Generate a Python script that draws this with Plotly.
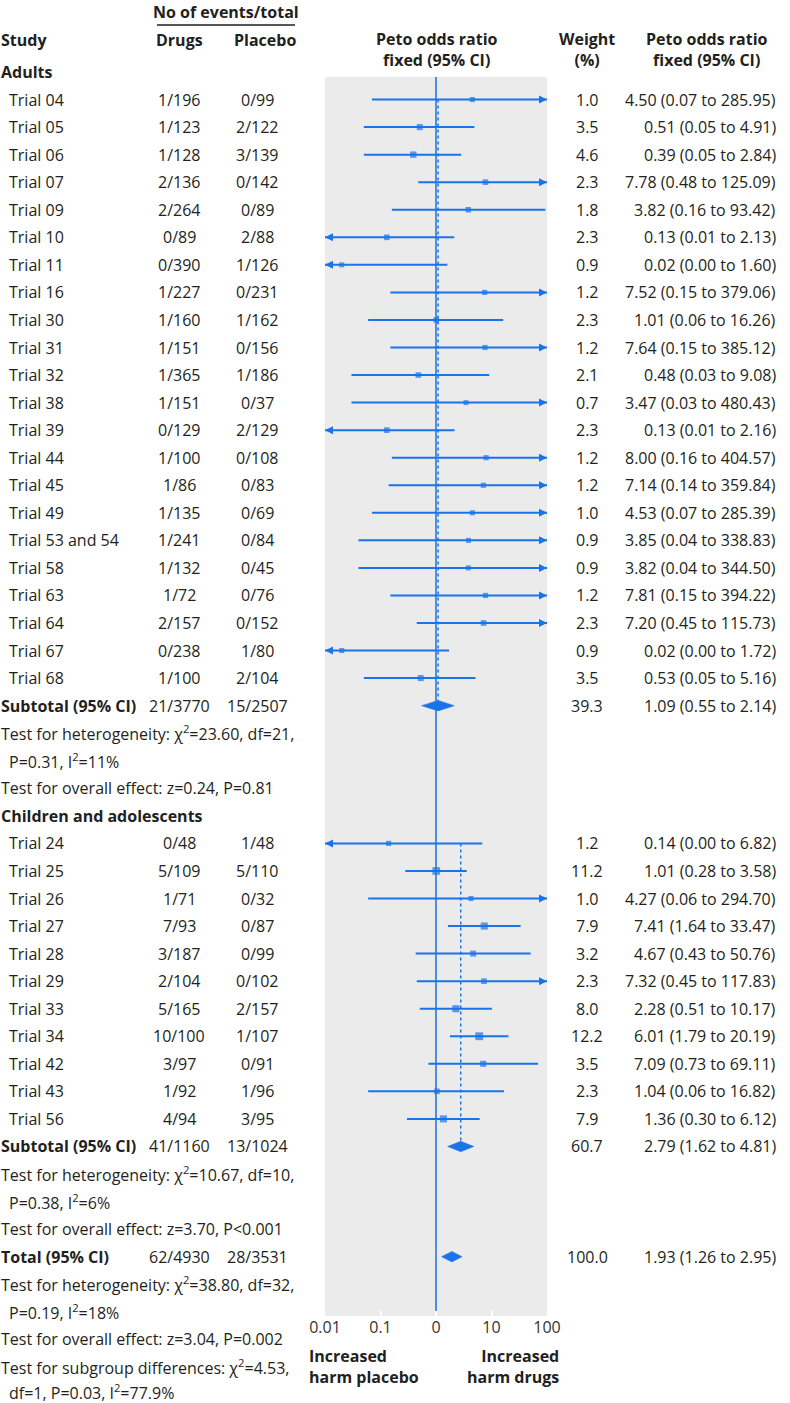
import numpy as np
import plotly.graph_objects as go

# ---------------- data ----------------
adult_trials = ["Trial 04", "Trial 05", "Trial 06", "Trial 07", "Trial 09", "Trial 10", "Trial 11",
                "Trial 16", "Trial 30", "Trial 31", "Trial 32", "Trial 38", "Trial 39", "Trial 44",
                "Trial 45", "Trial 49", "Trial 53 and 54", "Trial 58", "Trial 63", "Trial 64",
                "Trial 67", "Trial 68"]
adult_drugs = ["1/196", "1/123", "1/128", "2/136", "2/264", "0/89", "0/390", "1/227", "1/160", "1/151",
               "1/365", "1/151", "0/129", "1/100", "1/86", "1/135", "1/241", "1/132", "1/72", "2/157",
               "0/238", "1/100"]
adult_placebo = ["0/99", "2/122", "3/139", "0/142", "0/89", "2/88", "1/126", "0/231", "1/162", "0/156",
                 "1/186", "0/37", "2/129", "0/108", "0/83", "0/69", "0/84", "0/45", "0/76", "0/152",
                 "1/80", "2/104"]
adult_weight = [1.0, 3.5, 4.6, 2.3, 1.8, 2.3, 0.9, 1.2, 2.3, 1.2, 2.1, 0.7, 2.3, 1.2, 1.2, 1.0, 0.9, 0.9,
                1.2, 2.3, 0.9, 3.5]
adult_or = [4.50, 0.51, 0.39, 7.78, 3.82, 0.13, 0.02, 7.52, 1.01, 7.64, 0.48, 3.47, 0.13, 8.00, 7.14, 4.53,
            3.85, 3.82, 7.81, 7.20, 0.02, 0.53]
adult_lo = [0.07, 0.05, 0.05, 0.48, 0.16, 0.01, 0.00, 0.15, 0.06, 0.15, 0.03, 0.03, 0.01, 0.16, 0.14, 0.07,
            0.04, 0.04, 0.15, 0.45, 0.00, 0.05]
adult_hi = [285.95, 4.91, 2.84, 125.09, 93.42, 2.13, 1.60, 379.06, 16.26, 385.12, 9.08, 480.43, 2.16,
            404.57, 359.84, 285.39, 338.83, 344.50, 394.22, 115.73, 1.72, 5.16]
adult_sub = {"drugs": "21/3770", "placebo": "15/2507", "weight": 39.3, "or": 1.09, "lo": 0.55, "hi": 2.14}
adult_tests = ["Test for heterogeneity: χ<sup>2</sup>=23.60, df=21,",
               "  P=0.31, I<sup>2</sup>=11%",
               "Test for overall effect: z=0.24, P=0.81"]

child_trials = ["Trial 24", "Trial 25", "Trial 26", "Trial 27", "Trial 28", "Trial 29", "Trial 33",
                "Trial 34", "Trial 42", "Trial 43", "Trial 56"]
child_drugs = ["0/48", "5/109", "1/71", "7/93", "3/187", "2/104", "5/165", "10/100", "3/97", "1/92", "4/94"]
child_placebo = ["1/48", "5/110", "0/32", "0/87", "0/99", "0/102", "2/157", "1/107", "0/91", "1/96", "3/95"]
child_weight = [1.2, 11.2, 1.0, 7.9, 3.2, 2.3, 8.0, 12.2, 3.5, 2.3, 7.9]
child_or = [0.14, 1.01, 4.27, 7.41, 4.67, 7.32, 2.28, 6.01, 7.09, 1.04, 1.36]
child_lo = [0.00, 0.28, 0.06, 1.64, 0.43, 0.45, 0.51, 1.79, 0.73, 0.06, 0.30]
child_hi = [6.82, 3.58, 294.70, 33.47, 50.76, 117.83, 10.17, 20.19, 69.11, 16.82, 6.12]
child_sub = {"drugs": "41/1160", "placebo": "13/1024", "weight": 60.7, "or": 2.79, "lo": 1.62, "hi": 4.81}
child_tests = ["Test for heterogeneity: χ<sup>2</sup>=10.67, df=10,",
               "  P=0.38, I<sup>2</sup>=6%",
               "Test for overall effect: z=3.70, P<0.001"]

total = {"drugs": "62/4930", "placebo": "28/3531", "weight": 100.0, "or": 1.93, "lo": 1.26, "hi": 2.95}
total_tests = ["Test for heterogeneity: χ<sup>2</sup>=38.80, df=32,",
               "  P=0.19, I<sup>2</sup>=18%",
               "Test for overall effect: z=3.04, P=0.002",
               "Test for subgroup differences: χ<sup>2</sup>=4.53,",
               "  df=1, P=0.03, I<sup>2</sup>=77.9%"]

tick_vals = [0.01, 0.1, 1, 10, 100]
tick_text = ["0.01", "0.1", "0", "10", "100"]

# ---------------- layout constants ----------------
W, H = 790, 1403
ROW0, DY = 72.0, 27.55
XMIN, XMAX = 0.01, 100
FONT = "'Open Sans', 'Noto Sans', sans-serif"
FS = 16
TXT = "#231f20"
BLUE = "#1a73e8"
VBLUE = "#4f8fdc"
GREY = "#ebebeb"


def rowpx(y):
    return (y - ROW0) / DY


def px(x):
    return x / W


X_STUDY, X_TRIAL = 0, 8
X_DRUGS, X_PLAC = 179, 257
X_WEIGHT, X_CI = 587, 777

# rows
adult_rows = list(range(1, 1 + len(adult_trials)))
adult_sub_row = adult_rows[-1] + 1
adult_test_rows = [adult_sub_row + 1 + i for i in range(3)]
child_head_row = adult_test_rows[-1] + 1
child_rows = [child_head_row + 1 + i for i in range(len(child_trials))]
child_sub_row = child_rows[-1] + 1
child_test_rows = [child_sub_row + 1 + i for i in range(3)]
total_row = child_test_rows[-1] + 1
total_test_rows = [total_row + 1 + i for i in range(5)]

fig = go.Figure()
ann = []


def text(x, y, s, anchor="left", bold=False, size=FS, color=TXT, yshift=0):
    ann.append(dict(x=px(x), y=y, xref="paper", yref="y", text=(f"<b>{s}</b>" if bold else s),
                    showarrow=False, xanchor=anchor, yanchor="middle", borderpad=0, align=anchor
                    if anchor != "center" else "center", yshift=yshift,
                    font=dict(family=FONT, size=size, color=color)))


grey_top = rowpx(77)
grey_bot = rowpx(1316)

# vertical line of no effect
fig.add_trace(go.Scatter(x=[1, 1], y=[grey_top, grey_bot], mode="lines",
                         line=dict(color=VBLUE, width=2), hoverinfo="skip"))

HALF = 0.19


def group(names, drugs, plac, wts, ors, los, his, rows, sub, sub_row):
    fig.add_trace(go.Scatter(x=[sub["or"], sub["or"]], y=[rows[0], sub_row - HALF], mode="lines",
                             line=dict(color=BLUE, width=1.5, dash="3px,3px"), hoverinfo="skip"))
    lx, ly = [], []
    for lo, hi, r in zip(los, his, rows):
        lx += [max(lo, XMIN), min(hi, XMAX), None]
        ly += [r, r, None]
    fig.add_trace(go.Scatter(x=lx, y=ly, mode="lines", line=dict(color=BLUE, width=2),
                             hoverinfo="skip"))
    fig.add_trace(go.Scatter(x=ors, y=rows, mode="markers",
                             marker=dict(symbol="square", color=BLUE,
                                         size=[4 + 1.1 * np.sqrt(w) for w in wts], line=dict(width=0)),
                             hoverinfo="skip"))
    rr = [r for hi, r in zip(his, rows) if hi >= XMAX]
    fig.add_trace(go.Scatter(x=[XMAX] * len(rr), y=rr, mode="markers", cliponaxis=False,
                             marker=dict(symbol="arrow-right", color=BLUE, size=8, line=dict(width=0)),
                             hoverinfo="skip"))
    rl = [r for lo, r in zip(los, rows) if lo <= XMIN]
    fig.add_trace(go.Scatter(x=[XMIN] * len(rl), y=rl, mode="markers", cliponaxis=False,
                             marker=dict(symbol="arrow-left", color=BLUE, size=8, line=dict(width=0)),
                             hoverinfo="skip"))
    for n, d, p, w, o, lo, hi, r in zip(names, drugs, plac, wts, ors, los, his, rows):
        text(X_TRIAL, r, n)
        text(X_DRUGS, r, d, "center")
        text(X_PLAC, r, p, "center")
        text(X_WEIGHT, r, f"{w:.1f}", "center")
        text(X_CI, r, f"{o:.2f} ({lo:.2f} to {hi:.2f})", "right")


def diamond(d, r, label):
    fig.add_trace(go.Scatter(x=[d["lo"], d["or"], d["hi"], d["or"], d["lo"]],
                             y=[r, r - HALF, r, r + HALF, r], mode="lines", fill="toself",
                             fillcolor=BLUE, line=dict(color=BLUE, width=0.5), hoverinfo="skip"))
    text(X_STUDY, r, label, bold=True)
    text(X_DRUGS, r, d["drugs"], "center")
    text(X_PLAC, r, d["placebo"], "center")
    text(X_WEIGHT, r, f"{d['weight']:.1f}", "center")
    text(X_CI, r, f"{d['or']:.2f} ({d['lo']:.2f} to {d['hi']:.2f})", "right")


group(adult_trials, adult_drugs, adult_placebo, adult_weight, adult_or, adult_lo, adult_hi,
      adult_rows, adult_sub, adult_sub_row)
group(child_trials, child_drugs, child_placebo, child_weight, child_or, child_lo, child_hi,
      child_rows, child_sub, child_sub_row)
diamond(adult_sub, adult_sub_row, "Subtotal (95% CI)")
diamond(child_sub, child_sub_row, "Subtotal (95% CI)")
diamond(total, total_row, "Total (95% CI)")


def tests(lines, rows):
    last = rows[-1] if rows is total_test_rows else None
    for s, r in zip(lines, rows):
        ys = 2 if r == last else 0
        if s.startswith("  "):
            text(X_TRIAL, r, s.strip(), yshift=ys)
        else:
            text(X_STUDY, r, s, yshift=ys)


tests(adult_tests, adult_test_rows)
tests(child_tests, child_test_rows)
tests(total_tests, total_test_rows)

# headers
text(X_STUDY, 0, "Adults", bold=True)
text(X_STUDY, child_head_row, "Children and adolescents", bold=True)
text(X_STUDY, rowpx(40), "Study", bold=True)
text(X_DRUGS, rowpx(40), "Drugs", "center", bold=True)
text(265, rowpx(40), "Placebo", "center", bold=True)
text(226, rowpx(12), "No of events/total", "center", bold=True)
text(437, rowpx(49), "<b>Peto odds ratio</b><br><b>fixed (95% CI)</b>", "center")
text(X_WEIGHT, rowpx(49), "<b>Weight</b><br><b>(%)</b>", "center")
text(707, rowpx(49), "<b>Peto odds ratio</b><br><b>fixed (95% CI)</b>", "center")
text(308, rowpx(1366), "<b>Increased</b><br><b>harm placebo</b>", "left")
text(560, rowpx(1366), "<b>Increased</b><br><b>harm drugs</b>", "right")

shapes = [
    dict(type="rect", xref="x domain", yref="y", x0=0, x1=1, y0=grey_top, y1=grey_bot,
         fillcolor=GREY, line=dict(width=0), layer="below"),
    dict(type="line", xref="paper", yref="y", x0=px(157), x1=px(295), y0=rowpx(25), y1=rowpx(25),
         line=dict(color=TXT, width=1.5)),
]

fig.update_layout(
    width=W, height=H, autosize=False,
    margin=dict(l=0, r=0, t=0, b=0, pad=0, autoexpand=False),
    paper_bgcolor="white", plot_bgcolor="rgba(0,0,0,0)", showlegend=False,
    annotations=ann, shapes=shapes,
    xaxis=dict(type="log", range=[np.log10(XMIN), np.log10(XMAX)], domain=[px(325), px(547)],
               anchor="free", position=1 - 1316 / H, showgrid=False, zeroline=False, showline=False,
               tickvals=tick_vals, ticktext=tick_text, ticks="inside", tickcolor="white",
               ticklen=5, tickwidth=1.5, automargin=False,
               tickfont=dict(family=FONT, size=FS, color="#333333")),
    yaxis=dict(range=[(H - ROW0) / DY, -ROW0 / DY], domain=[0, 1], visible=False, automargin=False),
)

fig.write_html("out.html", config={"responsive": False, "displayModeBar": False},
               post_script="document.body.style.margin='0px';document.body.style.overflow='hidden';")
